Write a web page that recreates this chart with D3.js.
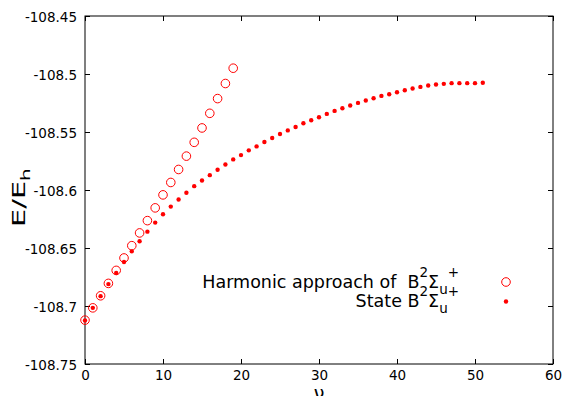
<!DOCTYPE html>
<html>
<head>
<meta charset="utf-8">
<script src="https://cdn.jsdelivr.net/npm/d3@7"></script>
<style>
  html, body { margin: 0; padding: 0; background: #fff; }
  svg { display: block; font-family: "DejaVu Sans", sans-serif; }
  .legend text { white-space: pre; }
</style>
</head>
<body>
<svg id="chart" width="566" height="396"></svg>
<script>
// Vibrational levels v = 0..19, harmonic approach of B²Σu⁺ (energies in Eh)
const harmonicV = d3.range(0, 20);
const harmonicE = [
  -108.7122, -108.7016, -108.6912, -108.6805, -108.6693, -108.6586, -108.6480,
  -108.6370, -108.6264, -108.6154, -108.6042, -108.5935, -108.5823, -108.5708,
  -108.5589, -108.5465, -108.5339, -108.5212, -108.5082, -108.4950
];

// Vibrational levels v = 0..51 of state B²Σu⁺ (energies in Eh)
const stateV = d3.range(0, 52);
const stateE = [
  -108.7125, -108.7016, -108.6915, -108.6811, -108.6716, -108.6621, -108.6529,
  -108.6442, -108.6359, -108.6281, -108.6209, -108.6143, -108.6082, -108.6024,
  -108.5967, -108.5918, -108.5872, -108.5826, -108.5780, -108.5736, -108.5699,
  -108.5658, -108.5624, -108.5586, -108.5552, -108.5517, -108.5486, -108.5457,
  -108.5425, -108.5399, -108.5373, -108.5344, -108.5318, -108.5295, -108.5272,
  -108.5249, -108.5229, -108.5209, -108.5189, -108.5174, -108.5157, -108.5140,
  -108.5125, -108.5111, -108.5099, -108.5091, -108.5085, -108.5079, -108.5079,
  -108.5079, -108.5079, -108.5076
];

const xTicks = [0, 10, 20, 30, 40, 50, 60];
const yTicks = [-108.75, -108.7, -108.65, -108.6, -108.55, -108.5, -108.45];

const RED = "#ff0000";
const FONT = "DejaVu Sans, sans-serif";
const plot = { left: 85, right: 553, top: 16, bottom: 364 };

const svg = d3.select("#chart");

const x = d3.scaleLinear().domain([0, 60]).range([plot.left, plot.right]);
const y = d3.scaleLinear().domain([-108.75, -108.45]).range([plot.bottom, plot.top]);

const fmtY = v => String(+v.toFixed(2));

// Axes: ticks point inward on all four sides
const tickLen = 5;
const axisBottom = d3.axisBottom(x).tickValues(xTicks).tickSize(-tickLen).tickPadding(6.5).tickFormat(d3.format("d"));
const axisTop = d3.axisTop(x).tickValues(xTicks).tickSize(-tickLen).tickFormat("");
const axisLeft = d3.axisLeft(y).tickValues(yTicks).tickSize(-tickLen).tickPadding(8).tickFormat(fmtY);
const axisRight = d3.axisRight(y).tickValues(yTicks).tickSize(-tickLen).tickFormat("");

function style(g) {
  g.attr("font-family", FONT).attr("font-size", 13.5);
  g.select(".domain").remove();
  g.selectAll(".tick line").attr("stroke", "#000").attr("stroke-width", 1);
  g.selectAll(".tick text").attr("fill", "#000");
}

svg.append("g").attr("transform", `translate(0,${plot.bottom})`).call(axisBottom).call(style);
svg.append("g").attr("transform", `translate(0,${plot.top})`).call(axisTop).call(style);
svg.append("g").attr("transform", `translate(${plot.left},0)`).call(axisLeft).call(style)
  .selectAll(".tick text").attr("dy", "0.42em");
svg.append("g").attr("transform", `translate(${plot.right},0)`).call(axisRight).call(style);

// Frame
svg.append("rect")
  .attr("x", plot.left).attr("y", plot.top)
  .attr("width", plot.right - plot.left).attr("height", plot.bottom - plot.top)
  .attr("fill", "none").attr("stroke", "#000").attr("stroke-width", 1);

// Harmonic levels: open circles
svg.append("g").selectAll("circle")
  .data(harmonicV.map((v, i) => [v, harmonicE[i]]))
  .join("circle")
  .attr("cx", d => x(d[0])).attr("cy", d => y(d[1]))
  .attr("r", 4.3).attr("fill", "none").attr("stroke", RED).attr("stroke-width", 1);

// State levels: filled dots
svg.append("g").selectAll("circle")
  .data(stateV.map((v, i) => [v, stateE[i]]))
  .join("circle")
  .attr("cx", d => x(d[0])).attr("cy", d => y(d[1]))
  .attr("r", 2.2).attr("fill", RED);

// Axis titles (the y title is drawn stretched along its reading direction)
svg.append("text")
  .attr("transform", "translate(25,227) rotate(-90) scale(1.6,1)")
  .attr("text-anchor", "start").attr("font-size", 18).attr("fill", "#000")
  .call(t => {
    t.append("tspan").text("E/E");
    t.append("tspan").attr("font-size", 12.5).attr("dy", 5).text("h");
  });

svg.append("text")
  .attr("x", x(30)).attr("y", 400)
  .attr("text-anchor", "middle").attr("font-size", 19).attr("fill", "#000")
  .text("ν");

// Legend
const legend = svg.append("g").attr("class", "legend");
const legendRows = [
  { label: "Harmonic approach of  B", base: 288, cy: 282, open: true },
  { label: "State B", base: 307, cy: 301.5, open: false }
];
legendRows.forEach(row => {
  const t = legend.append("text")
    .attr("x", 459).attr("y", row.base)
    .attr("text-anchor", "end").attr("font-size", 17.5).attr("fill", "#000");
  t.append("tspan").text(row.label);
  t.append("tspan").attr("font-size", 13.5).attr("dy", -11).text("2");
  t.append("tspan").attr("dy", 11).text("Σ");
  t.append("tspan").attr("font-size", 13.5).attr("dy", 6).text("u");
  t.append("tspan").attr("font-size", 13.5).attr("dy", -17).text("+");
  if (row.open) {
    legend.append("circle").attr("cx", 506).attr("cy", row.cy).attr("r", 4.3)
      .attr("fill", "none").attr("stroke", RED).attr("stroke-width", 1);
  } else {
    legend.append("circle").attr("cx", 506).attr("cy", row.cy).attr("r", 2.2).attr("fill", RED);
  }
});
</script>
</body>
</html>
